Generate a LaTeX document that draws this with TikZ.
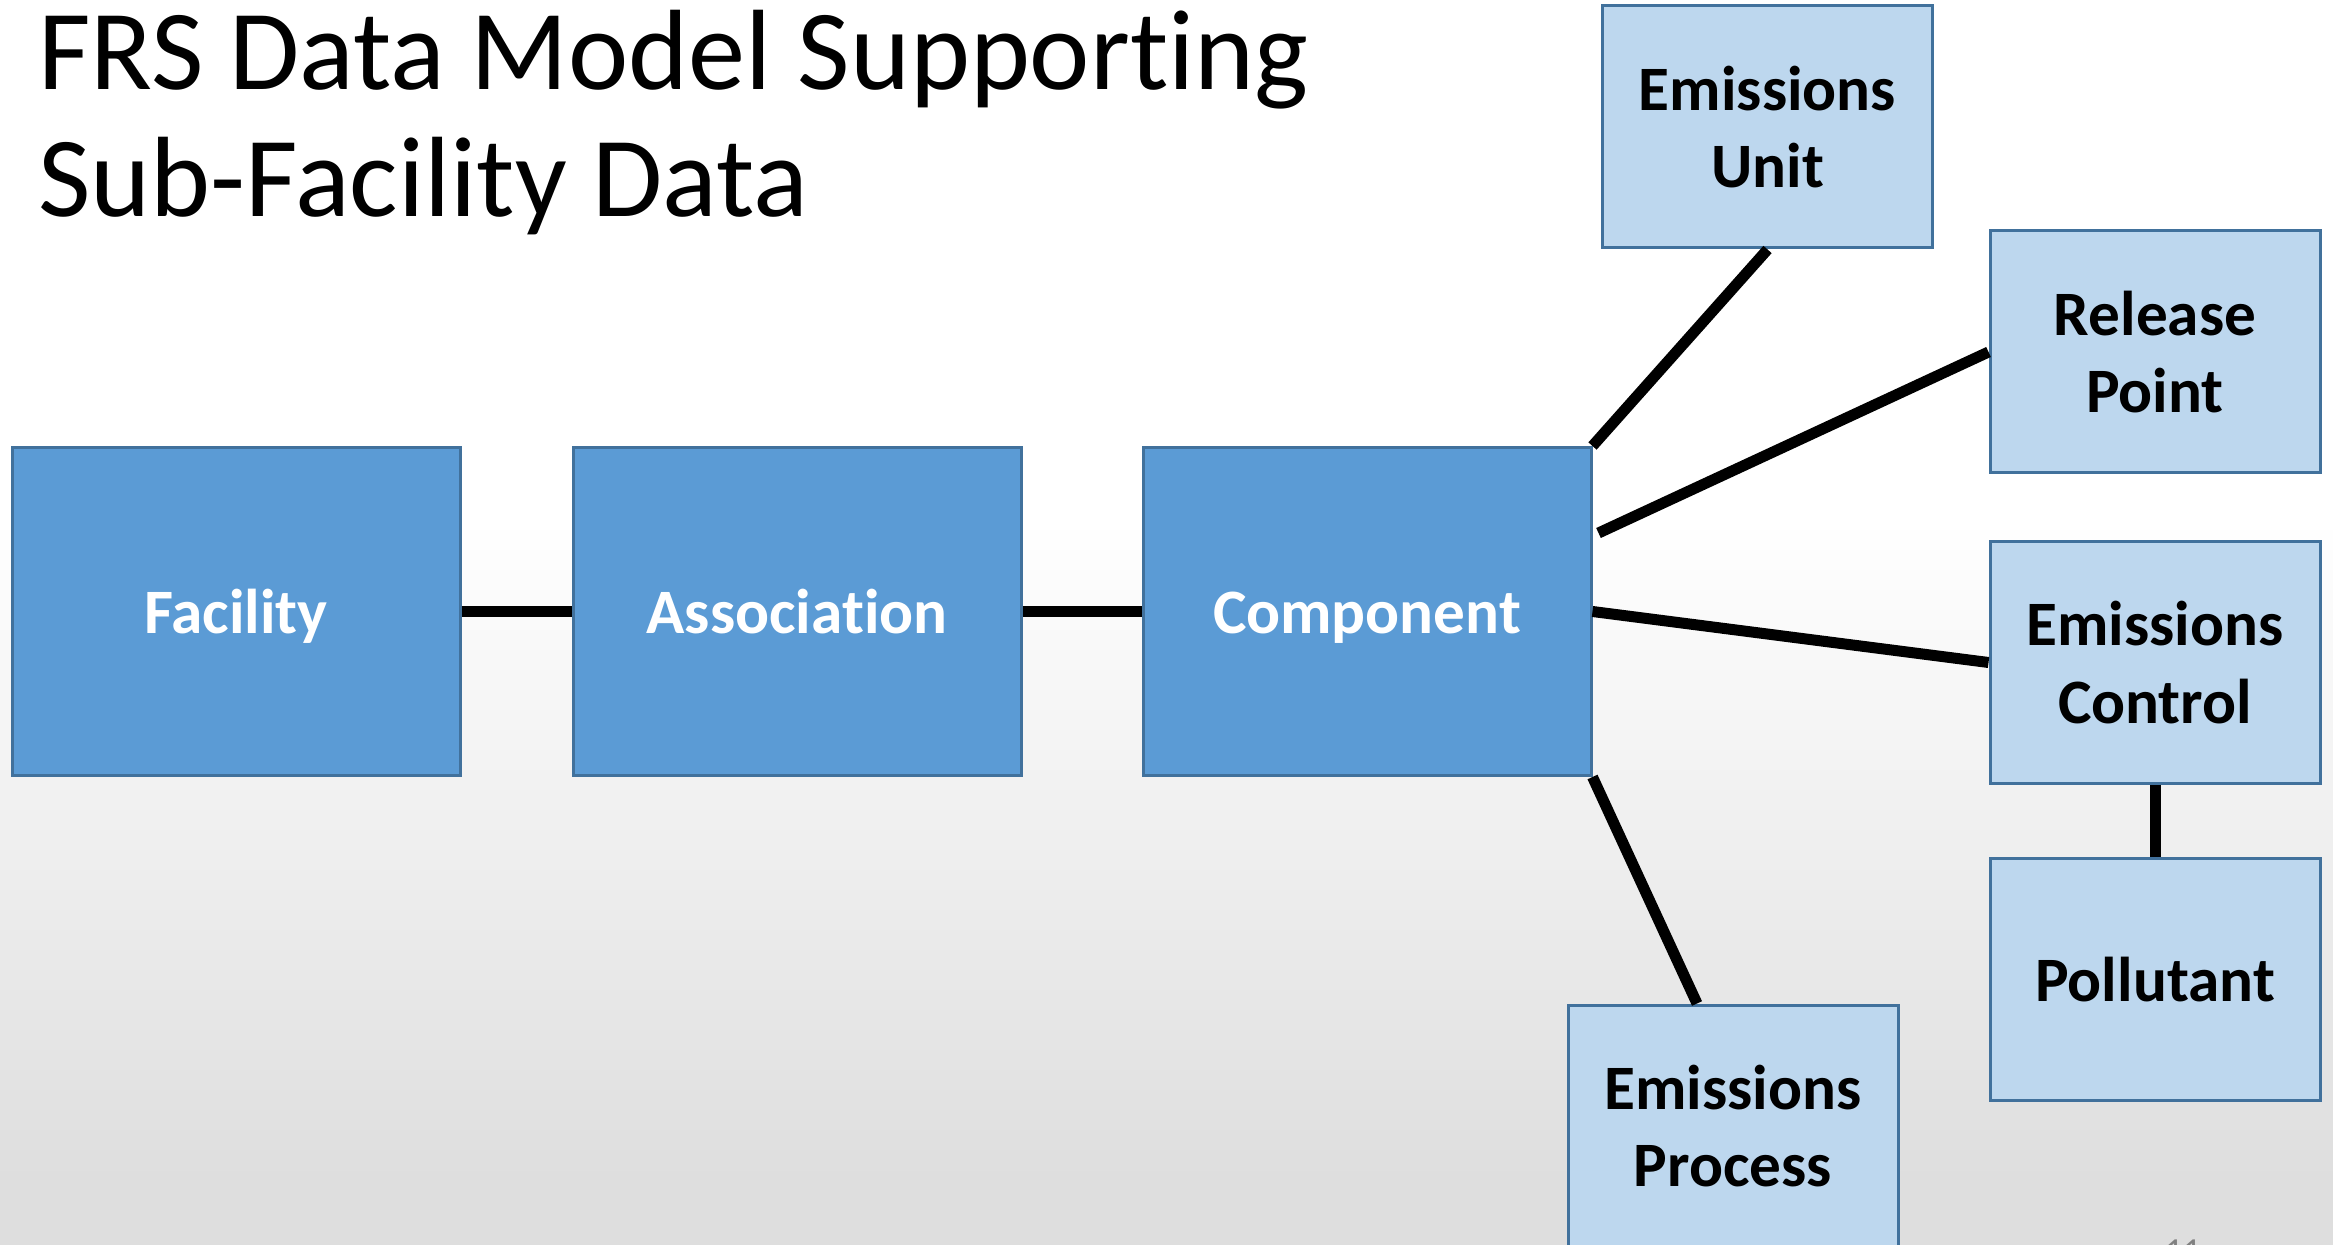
\documentclass[tikz,border=0pt]{standalone}
\usepackage{fontspec}
\setmainfont{Carlito}[Ligatures=NoCommon]
\definecolor{darkbox}{HTML}{5B9BD5}
\definecolor{lightbox}{HTML}{BDD7EE}
\definecolor{boxline}{HTML}{41719C}
\definecolor{slidegray}{HTML}{DEDEDE}

\begin{document}
\begin{tikzpicture}
  [every node/.style={rectangle,draw=boxline,line width=0.3mm,align=center,
     font=\fontsize{18}{22}\selectfont\bfseries},
   big/.style={fill=darkbox,text=white,minimum width=4.48cm,minimum height=3.28cm,
     text height=12.6pt,text depth=0pt},
   small/.style={fill=lightbox,text=black,minimum width=3.3cm,minimum height=2.42cm},
   link/.style={line width=1.1mm}]
  \useasboundingbox (0,0) rectangle (23.33,-12.45);
  \fill[white] (0,0) rectangle (23.33,-5.2);
  \shade[top color=white,bottom color=slidegray] (0,-5.2) rectangle (23.33,-11.8);
  \fill[slidegray] (0,-11.8) rectangle (23.33,-12.45);

  \node[draw=none,inner sep=0,anchor=base west,font=\fontsize{32.5}{36}\selectfont] (ntitle) at (0.37,-0.90) {FRS Data Model Supporting};
  \node[draw=none,inner sep=0,anchor=base west,font=\fontsize{32.5}{36}\selectfont] (nsub) at (0.37,-2.17) {Sub-Facility Data};
  \node[draw=none,inner sep=0,anchor=north,text=gray,font=\fontsize{10}{12}\selectfont] (npage) at (21.83,-12.38) {11};

  \node[big] (nfac) at (2.36,-6.115) {Facility};
  \node[big] (nassoc) at (7.97,-6.115) {Association};
  \node[big] (ncomp) at (13.67,-6.115) {Component};
  \node[small] (nunit) at (17.675,-1.27) {Emissions\\Unit};
  \node[small] (nrel) at (21.55,-3.52) {Release\\Point};
  \node[small] (nctrl) at (21.55,-6.625) {Emissions\\Control};
  \node[small] (npoll) at (21.55,-9.795) {Pollutant};
  \node[small] (nproc) at (17.33,-11.26) {Emissions\\Process};

  \foreach \from/\to in {nfac.east/nassoc.west,nassoc.east/ncomp.west,ncomp.north east/nunit.south,ncomp.east/nctrl.west,nctrl.south/npoll.north}
    \draw[link] (\from) -- (\to);
  \draw[link] ([xshift=0.6mm,yshift=-8.7mm]ncomp.north east) -- (nrel.west);
  \draw[link] (ncomp.south east) -- ([xshift=-3.6mm]nproc.north);
\end{tikzpicture}
\end{document}
